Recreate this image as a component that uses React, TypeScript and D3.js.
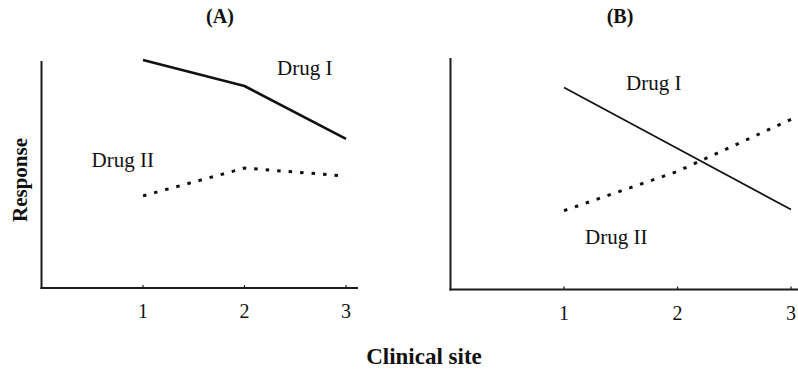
import React, { useEffect, useRef } from "react";
import * as d3 from "d3";

// Clinical sites on the x axis
const sites = [1, 2, 3];
const tickLabels = ["1", "2", "3"];

// Response (arbitrary units, 0–10) per clinical site
const panelADrugI = [10.0, 8.86, 6.54];
const panelADrugII = [4.04, 5.26, 4.91];
const panelBDrugI = [8.86, 6.18, 3.51];
const panelBDrugII = [3.46, 5.18, 7.46];

const panelTitles = ["(A)", "(B)"];
const seriesNames = ["Drug I", "Drug II"];

const W = 798;
const H = 370;
const SERIF = "'Liberation Serif', 'Times New Roman', serif";

type PanelLayout = {
  title: string;
  drugI: number[];
  drugII: number[];
  axisX: number;
  axisY: number;
  axisTop: number;
  axisRight: number;
  site3X: number;
  titleX: number;
  drugIWidth: number;
  labelI: [number, number];
  labelII: [number, number];
};

const panels: PanelLayout[] = [
  {
    title: panelTitles[0],
    drugI: panelADrugI,
    drugII: panelADrugII,
    axisX: 41.5,
    axisY: 288,
    axisTop: 61,
    axisRight: 358,
    site3X: 346,
    titleX: 220,
    drugIWidth: 2.6,
    labelI: [277, 75],
    labelII: [91.5, 166.5],
  },
  {
    title: panelTitles[1],
    drugI: panelBDrugI,
    drugII: panelBDrugII,
    axisX: 450.5,
    axisY: 289.5,
    axisTop: 58,
    axisRight: 798,
    site3X: 791,
    titleX: 620,
    drugIWidth: 1.7,
    labelI: [626, 90],
    labelII: [585, 244],
  },
];

export default function App() {
  const ref = useRef<SVGSVGElement | null>(null);

  useEffect(() => {
    const svg = d3.select(ref.current);
    svg.selectAll("*").remove();

    svg.append("rect").attr("width", W).attr("height", H).attr("fill", "#fff");

    panels.forEach((p) => {
      const g = svg.append("g");
      const x = d3.scaleLinear().domain([0, 3]).range([p.axisX, p.site3X]);
      const y = d3.scaleLinear().domain([0, 10]).range([p.axisY, p.axisY - 228]);

      // axes
      g.append("line")
        .attr("x1", p.axisX).attr("x2", p.axisX)
        .attr("y1", p.axisTop).attr("y2", p.axisY + 1)
        .attr("stroke", "#1a1a1a").attr("stroke-width", 2);
      g.append("line")
        .attr("x1", p.axisX - 1).attr("x2", p.axisRight)
        .attr("y1", p.axisY).attr("y2", p.axisY)
        .attr("stroke", "#1a1a1a").attr("stroke-width", 2);

      // tick marks and labels
      sites.forEach((s, i) => {
        g.append("line")
          .attr("x1", x(s)).attr("x2", x(s))
          .attr("y1", p.axisY - 3).attr("y2", p.axisY)
          .attr("stroke", "#1a1a1a").attr("stroke-width", 1.2);
        g.append("text")
          .attr("x", x(s)).attr("y", p.axisY + 30)
          .attr("text-anchor", "middle")
          .attr("font-family", SERIF).attr("font-size", 20)
          .attr("fill", "#111")
          .text(tickLabels[i]);
      });

      const line = d3
        .line<number>()
        .x((_, i) => x(sites[i]))
        .y((v) => y(v));

      g.append("path")
        .attr("d", line(p.drugI) || "")
        .attr("fill", "none")
        .attr("stroke", "#111")
        .attr("stroke-width", p.drugIWidth)
        .attr("stroke-linejoin", "round");

      g.append("path")
        .attr("d", line(p.drugII) || "")
        .attr("fill", "none")
        .attr("stroke", "#111")
        .attr("stroke-width", 3)
        .attr("stroke-dasharray", "3.5 8");

      g.append("text")
        .attr("x", p.labelI[0]).attr("y", p.labelI[1])
        .attr("font-family", SERIF).attr("font-size", 21).attr("fill", "#111")
        .text(seriesNames[0]);
      g.append("text")
        .attr("x", p.labelII[0]).attr("y", p.labelII[1])
        .attr("font-family", SERIF).attr("font-size", 21).attr("fill", "#111")
        .text(seriesNames[1]);

      g.append("text")
        .attr("x", p.titleX).attr("y", 23)
        .attr("text-anchor", "middle")
        .attr("font-family", SERIF).attr("font-size", 20).attr("font-weight", "bold")
        .attr("fill", "#111")
        .text(p.title);
    });

    svg.append("text")
      .attr("transform", "translate(27,180) rotate(-90)")
      .attr("text-anchor", "middle")
      .attr("font-family", SERIF).attr("font-size", 21).attr("font-weight", "bold")
      .attr("fill", "#111")
      .text("Response");

    svg.append("text")
      .attr("x", 424).attr("y", 364)
      .attr("text-anchor", "middle")
      .attr("font-family", SERIF).attr("font-size", 23).attr("font-weight", "bold")
      .attr("fill", "#111")
      .text("Clinical site");
  }, []);

  return (
    <svg
      ref={ref}
      width={W}
      height={H}
      style={{ position: "absolute", left: 0, top: 0, display: "block" }}
    />
  );
}
